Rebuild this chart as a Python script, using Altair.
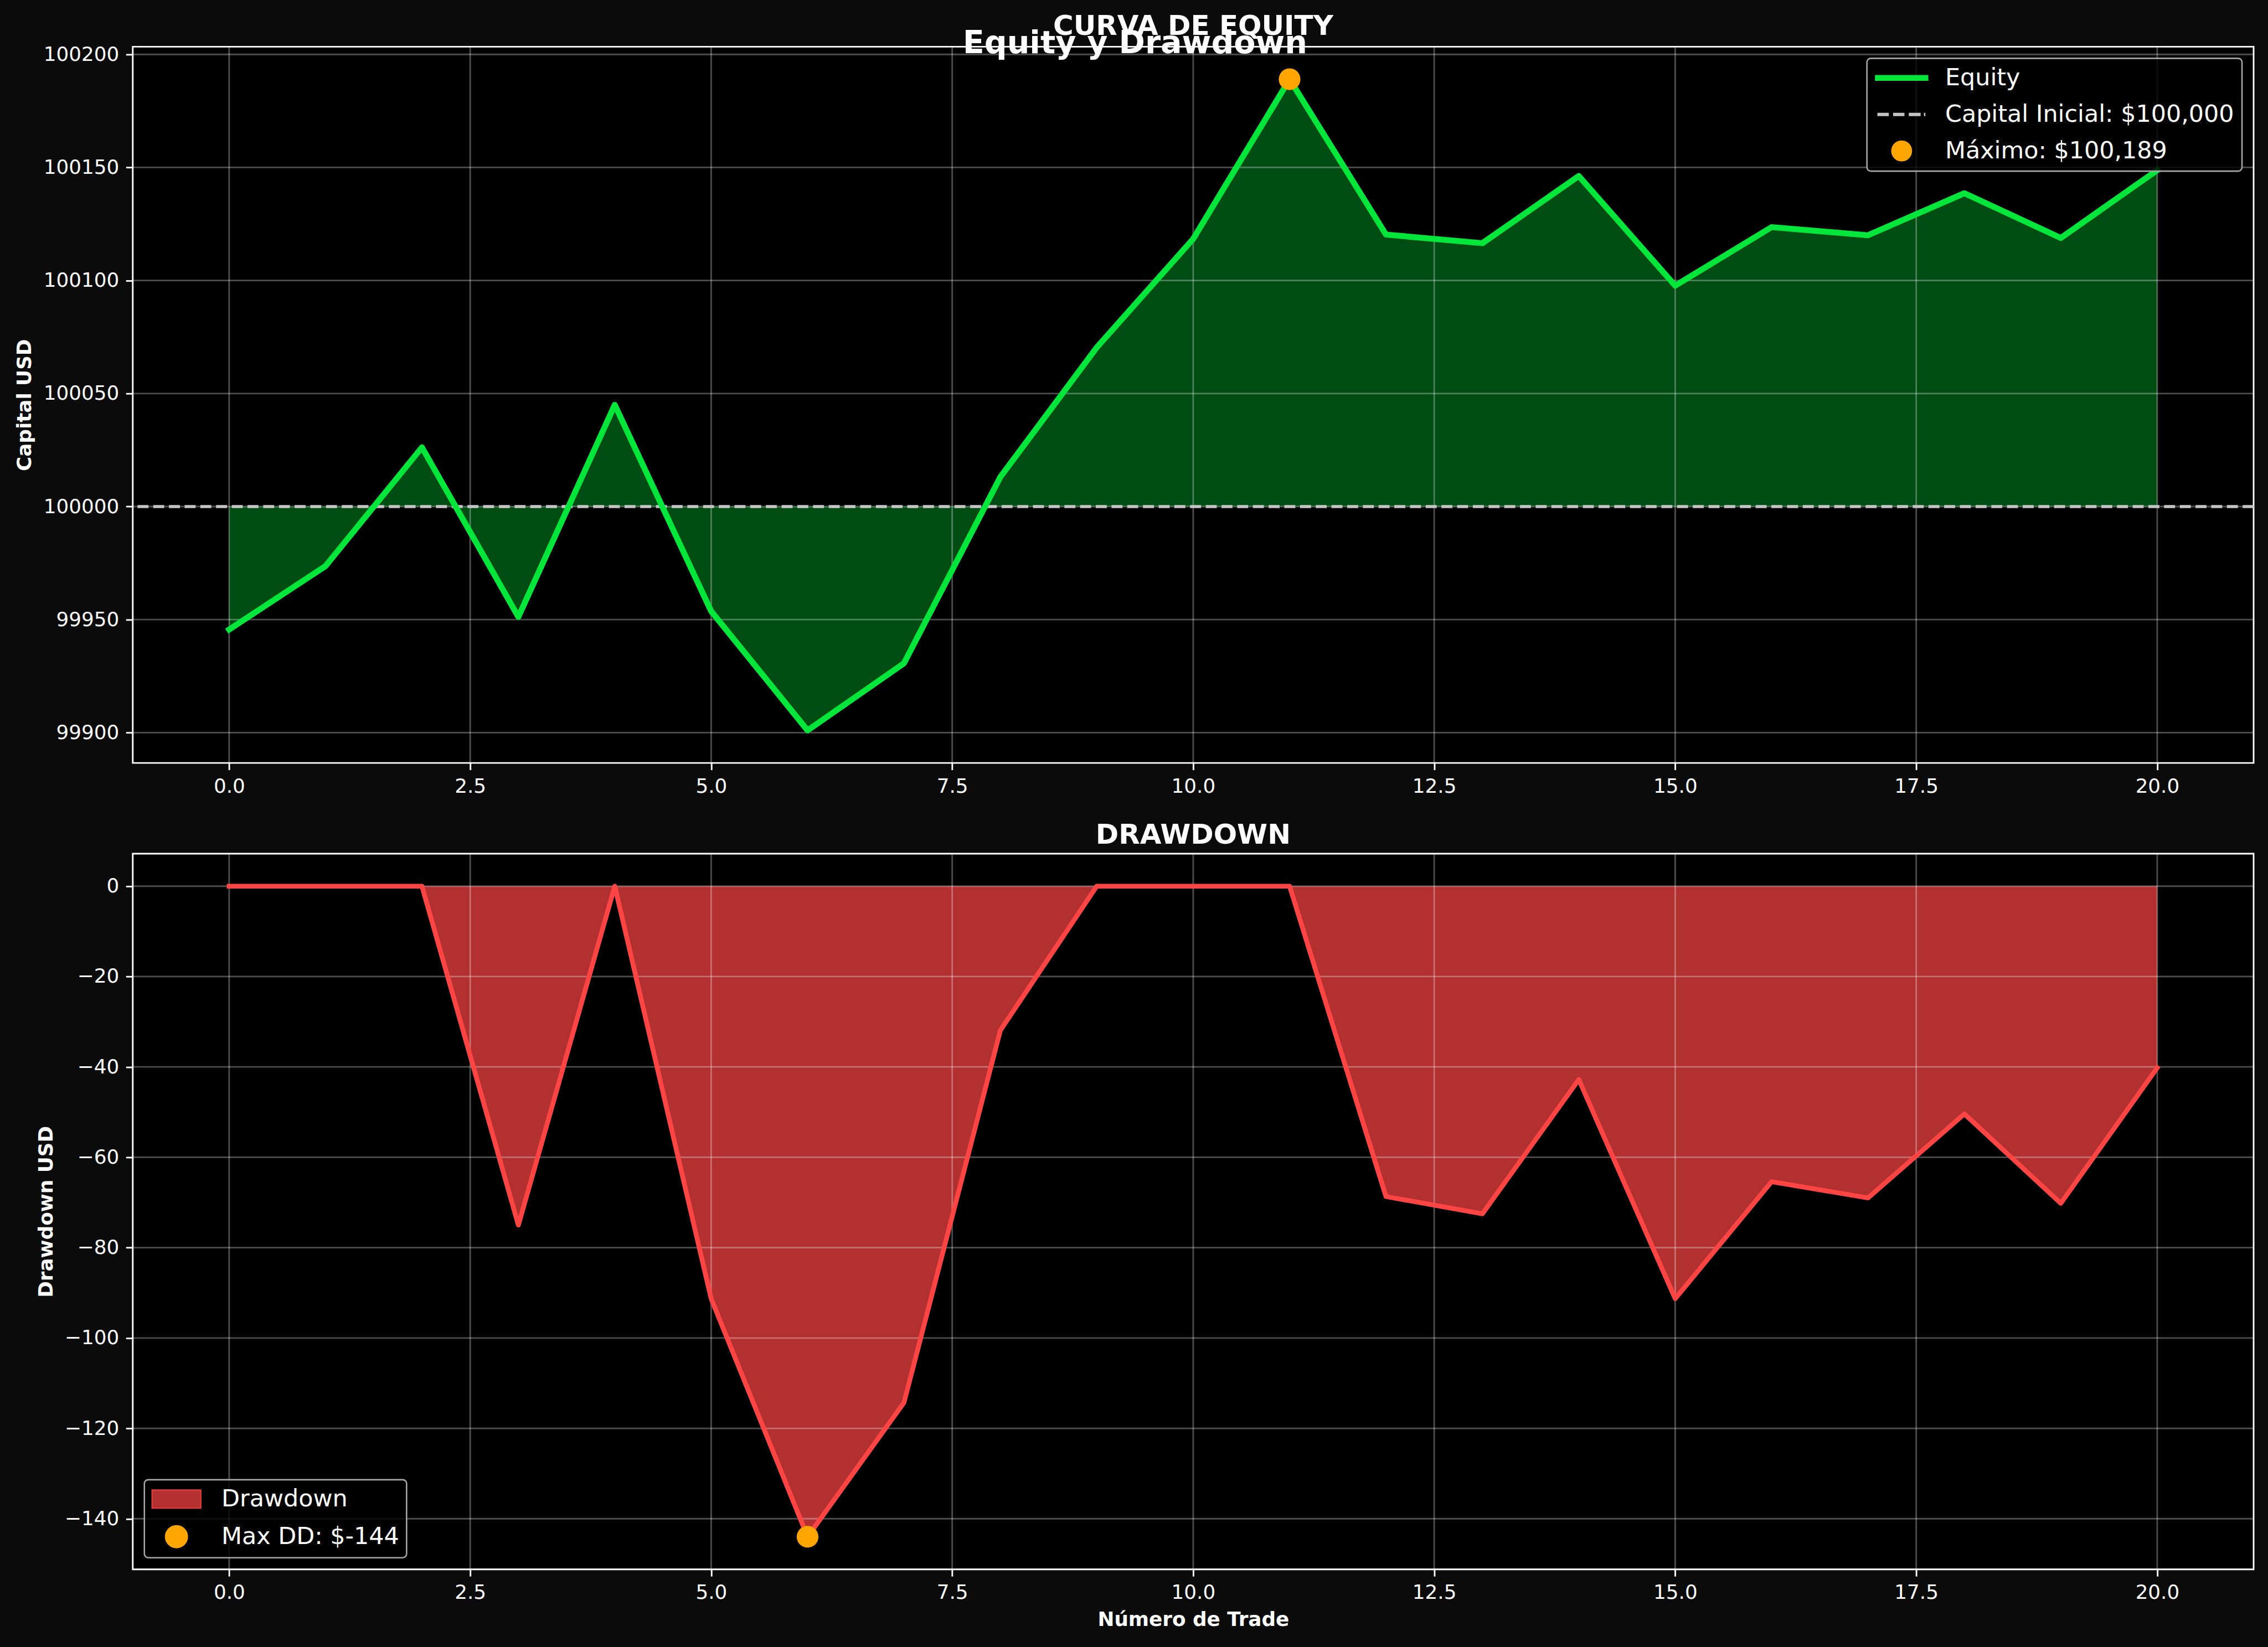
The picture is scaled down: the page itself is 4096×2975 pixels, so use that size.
import altair as alt
import pandas as pd

# ---------------- data ----------------
trades = list(range(21))
equity = [99945.6, 99973.7, 100026.2, 99951.2, 100045.0, 99953.7, 99901.0, 99930.7,
          100013.1, 100070.4, 100118.4, 100189.0, 100120.3, 100116.5, 100146.2,
          100097.7, 100123.6, 100120.0, 100138.6, 100118.8, 100148.8]
drawdown = [0, 0, 0, -75.0, 0, -91.3, -144.0, -114.3, -31.9, 0, 0, 0, -68.7, -72.5,
            -42.8, -91.3, -65.4, -69.0, -50.4, -70.2, -40.2]
capital_inicial = 100000
x_ticks = [0, 2.5, 5, 7.5, 10, 12.5, 15, 17.5, 20]
equity_ticks = [99900, 99950, 100000, 100050, 100100, 100150, 100200]
drawdown_ticks = [0, -20, -40, -60, -80, -100, -120, -140]

# ---------------- styling ----------------
FONT = "DejaVu Sans"
W, H = 3834, 1295
GREEN = "#00e63b"
GREEN_FILL = "#004d14"
RED = "#ff4444"
RED_FILL = "#b23030"
ORANGE = "#ffa500"
DASH_GRAY = "#c4c4c4"
VIEW = alt.ViewBackground(fill="#000000", stroke="#ffffff", strokeWidth=2.9)

df = pd.DataFrame({"trade": trades, "equity": equity, "drawdown": drawdown,
                   "base": capital_inicial, "zero": 0})
i_max = equity.index(max(equity))
i_min = drawdown.index(min(drawdown))
df_max = df.iloc[[i_max]]
df_min = df.iloc[[i_min]]


def margin(lo, hi, m=0.05):
    r = hi - lo
    return [lo - m * r, hi + m * r]


xs = alt.Scale(domain=margin(min(trades), max(trades)), nice=False, zero=False)
ys_eq = alt.Scale(domain=margin(min(equity), max(equity)), nice=False, zero=False)
ys_dd = alt.Scale(domain=margin(min(drawdown), max(drawdown)), nice=False, zero=False)

xax_top = alt.Axis(values=x_ticks, format=".1f", title=None)
xax_bot = alt.Axis(values=x_ticks, format=".1f", title="Número de Trade")
yax_eq = alt.Axis(values=equity_ticks, format="d", title="Capital USD")
yax_dd = alt.Axis(values=drawdown_ticks, format="d", title="Drawdown USD")

lbl_eq = "Equity"
lbl_cap = f"Capital Inicial: ${capital_inicial:,.0f}"
lbl_max = f"Máximo: ${max(equity):,.0f}"
lbl_dd = "Drawdown"
lbl_mdd = f"Max DD: ${min(drawdown):.0f}"

GRID = dict(color="white", opacity=0.3, strokeWidth=2.85)

# ---------------- top panel ----------------
X_top = lambda f: alt.X(f"{f}:Q", scale=xs, axis=xax_top)
Y_eq = lambda f: alt.Y(f"{f}:Q", scale=ys_eq, axis=yax_eq)

area_eq = alt.Chart(df).mark_area(color=GREEN_FILL, opacity=1).encode(
    x=X_top("trade"), y=Y_eq("equity"), y2="base:Q")
gx_top = alt.Chart(pd.DataFrame({"trade": x_ticks})).mark_rule(**GRID).encode(x=X_top("trade"))
gy_top = alt.Chart(pd.DataFrame({"equity": equity_ticks})).mark_rule(**GRID).encode(y=Y_eq("equity"))
cap_line = alt.Chart(pd.DataFrame({"equity": [capital_inicial]})).mark_rule(
    color=DASH_GRAY, strokeWidth=5.36, strokeDash=[19.8, 8.6]).encode(y=Y_eq("equity"))
line_eq = alt.Chart(df).mark_line(color=GREEN, strokeWidth=10.7, strokeJoin="round",
                                  strokeCap="square").encode(x=X_top("trade"), y=Y_eq("equity"))
pt_max = alt.Chart(df_max).mark_circle(size=1537, color=ORANGE, opacity=1).encode(
    x=X_top("trade"), y=Y_eq("equity"))

# legend symbol paths: unit = 21 px (symbolSize 42^2), entry origin at x = -1
top_dom = [lbl_eq, lbl_cap, lbl_max]
top_shapes = [
    "M-1,-0.255H3.595V0.255H-1Z",
    "M-0.788,-0.143H0.193V0.143H-0.788Z M0.564,-0.143H1.54V0.143H0.564Z "
    "M1.912,-0.143H2.931V0.143H1.912Z M3.217,-0.143H3.34V0.143H3.217Z",
    "M0.398,0A0.9,0.9 0 1,0 2.198,0A0.9,0.9 0 1,0 0.398,0Z",
]
leg_top = alt.Legend(title=None, orient="top-right", offset=21, symbolSize=1764,
                     labelOffset=84.5, padding=14, rowPadding=22, symbolStrokeWidth=0,
                     labelLimit=2000)
legend_top = alt.Chart(pd.DataFrame({"serie": top_dom})).mark_point(filled=True, opacity=0).encode(
    fill=alt.Fill("serie:N", scale=alt.Scale(domain=top_dom, range=[GREEN, DASH_GRAY, ORANGE]),
                  legend=leg_top),
    shape=alt.Shape("serie:N", scale=alt.Scale(domain=top_dom, range=top_shapes), legend=leg_top),
)

top = alt.layer(area_eq, gx_top, gy_top, cap_line, line_eq, pt_max, legend_top).properties(
    width=W, height=H, view=VIEW,
    title=alt.TitleParams("CURVA DE EQUITY", fontSize=50, font=FONT, fontWeight="bold",
                          color="white", anchor="middle", frame="group", offset=7),
)

# ---------------- bottom panel ----------------
X_bot = lambda f: alt.X(f"{f}:Q", scale=xs, axis=xax_bot)
Y_dd = lambda f: alt.Y(f"{f}:Q", scale=ys_dd, axis=yax_dd)

area_dd = alt.Chart(df).mark_area(color=RED_FILL, opacity=1).encode(
    x=X_bot("trade"), y=Y_dd("drawdown"), y2="zero:Q")
gx_bot = alt.Chart(pd.DataFrame({"trade": x_ticks})).mark_rule(**GRID).encode(x=X_bot("trade"))
gy_bot = alt.Chart(pd.DataFrame({"drawdown": drawdown_ticks})).mark_rule(**GRID).encode(y=Y_dd("drawdown"))
line_dd = alt.Chart(df).mark_line(color=RED, strokeWidth=8.6, strokeJoin="round",
                                  strokeCap="square").encode(x=X_bot("trade"), y=Y_dd("drawdown"))
pt_min = alt.Chart(df_min).mark_circle(size=1537, color=ORANGE, opacity=1).encode(
    x=X_bot("trade"), y=Y_dd("drawdown"))

bot_dom = [lbl_dd, lbl_mdd]
bot_shapes = [
    "M-1,-0.776H3.19V0.776H-1Z",
    "M0.156,0A0.939,0.939 0 1,0 2.034,0A0.939,0.939 0 1,0 0.156,0Z",
]
leg_bot = alt.Legend(title=None, orient="bottom-left", offset=21, symbolSize=1764,
                     labelOffset=82, padding=12.5, rowPadding=20, symbolStrokeWidth=2.4,
                     labelLimit=2000)
legend_bot = alt.Chart(pd.DataFrame({"serie": bot_dom})).mark_point(filled=True, opacity=0).encode(
    fill=alt.Fill("serie:N", scale=alt.Scale(domain=bot_dom, range=[RED_FILL, ORANGE]), legend=leg_bot),
    stroke=alt.Stroke("serie:N", scale=alt.Scale(domain=bot_dom, range=["#e23a3a", ORANGE]), legend=leg_bot),
    shape=alt.Shape("serie:N", scale=alt.Scale(domain=bot_dom, range=bot_shapes), legend=leg_bot),
)

bottom = alt.layer(area_dd, gx_bot, gy_bot, line_dd, pt_min, legend_bot).properties(
    width=W, height=H - 1, view=VIEW,
    title=alt.TitleParams("DRAWDOWN", fontSize=50, font=FONT, fontWeight="bold",
                          color="white", anchor="middle", frame="group", offset=7),
)

chart = alt.vconcat(top, bottom, spacing=42).resolve_scale(
    fill="independent", shape="independent", stroke="independent"
).resolve_legend(fill="independent", shape="independent", stroke="independent").properties(
    title=alt.TitleParams("Equity y Drawdown", fontSize=57.2, font=FONT, fontWeight="bold",
                          color="white", anchor="middle", offset=-86),
    background="#0b0b0b",
    padding={"left": 25, "top": 20, "right": 21, "bottom": 36},
).configure_view(fill="black", stroke="white", strokeWidth=2.9).configure_axis(
    labelFont=FONT, labelFontSize=35.8, labelColor="white", tickColor="white", tickSize=12.5,
    tickWidth=2.9, labelPadding=12.5, domain=False, grid=False, titleFont=FONT,
    titleFontWeight="bold", titleFontSize=35.8, titleColor="white", titlePadding=14.3,
).configure_legend(
    labelFont=FONT, labelFontSize=42.9, labelColor="white", fillColor="rgba(0,0,0,0.8)",
    strokeColor="#a6a6a6", strokeWidth=2.6, cornerRadius=7, symbolOpacity=1,
)

chart.save("out.html", embed_options={"renderer": "svg", "actions": False})
